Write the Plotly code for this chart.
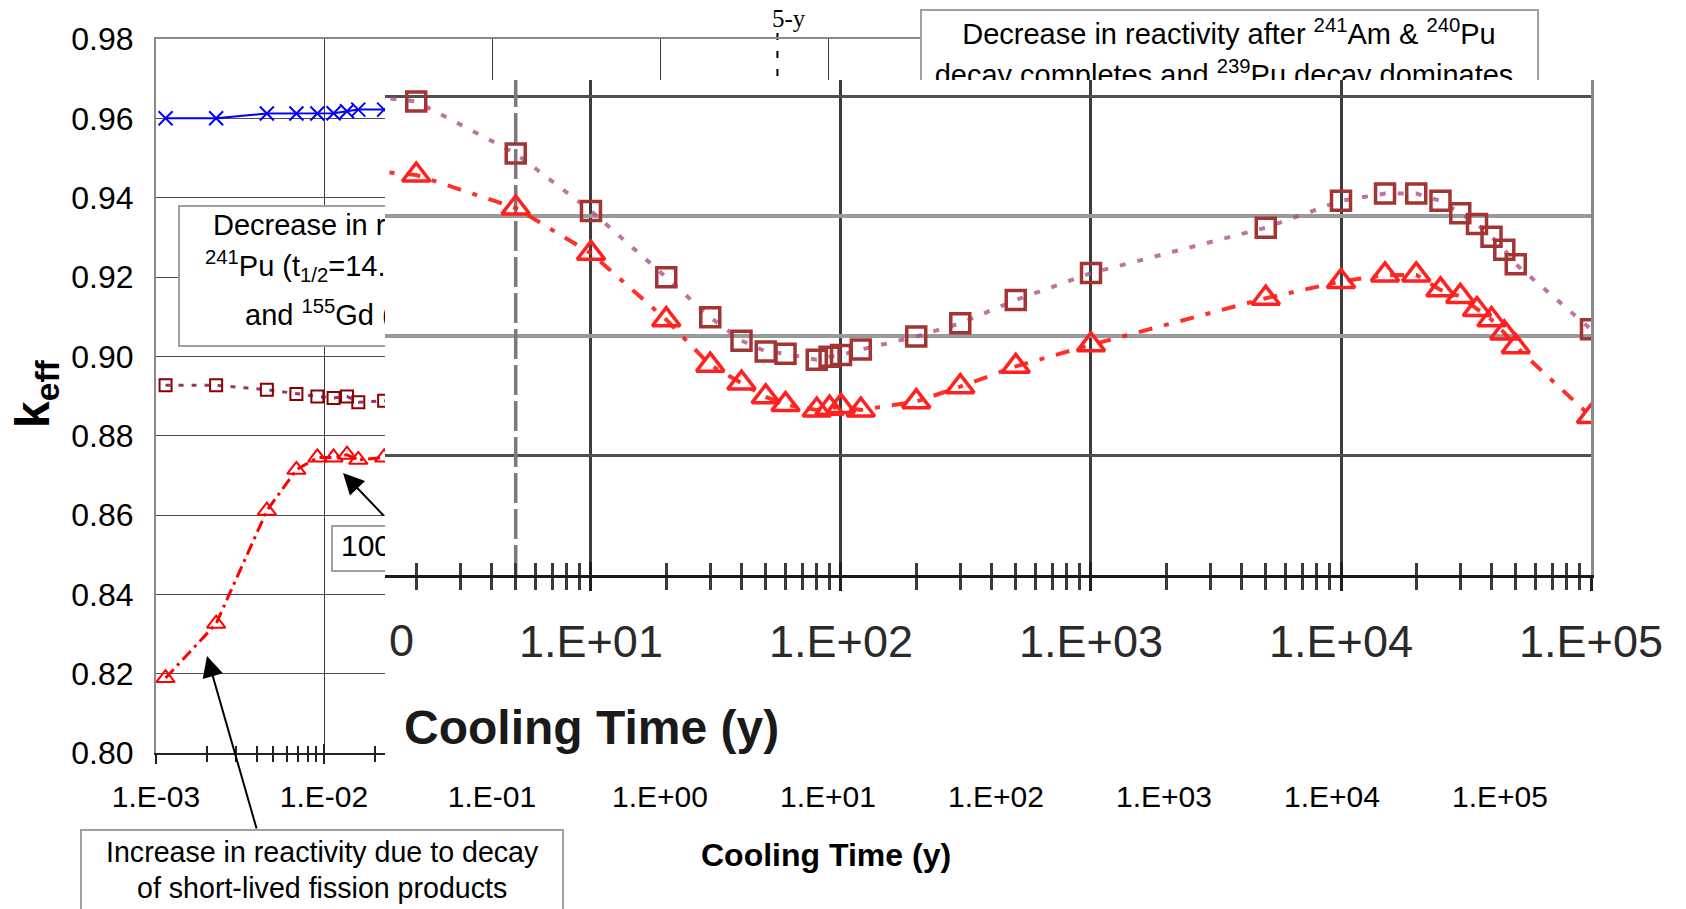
import numpy as np
import plotly.graph_objects as go

W, H = 1686, 909
FONT = "Liberation Sans, Arial, sans-serif"
SERIF = "Liberation Serif, Times New Roman, serif"

# ------------------------------------------------------------------ data
t_early = [1.14e-3, 2.28e-3, 4.57e-3, 6.85e-3, 9.13e-3, 1.14e-2, 1.37e-2, 1.60e-2, 2.28e-2]
t_late = [2, 5, 10, 20, 30, 40, 50, 60, 80, 90, 100, 120, 200, 300, 500, 1000, 5000,
          1e4, 1.5e4, 2e4, 2.5e4, 3e4, 3.5e4, 4e4, 4.5e4, 5e4, 1e5]

keff_x_early = [0.9600, 0.9600, 0.9612, 0.9612, 0.9612, 0.9613, 0.9618, 0.9622, 0.9622]

keff_sq_early = [0.8927, 0.8927, 0.8916, 0.8905, 0.8899, 0.8895, 0.8899, 0.8884, 0.8888]
keff_sq_late = [0.8792, 0.8705, 0.8609, 0.8498, 0.8431, 0.8392, 0.8374, 0.8370, 0.8360,
                0.8365, 0.8368, 0.8377, 0.8399, 0.8421, 0.8460, 0.8505, 0.8581, 0.8626,
                0.8638, 0.8638, 0.8626, 0.8605, 0.8587, 0.8566, 0.8544, 0.8520, 0.8411]

keff_tri_early = [0.8189, 0.8326, 0.8611, 0.8714, 0.8745, 0.8745, 0.8752, 0.8739, 0.8745]
keff_tri_late = [0.8669, 0.8614, 0.8538, 0.8427, 0.8351, 0.8321, 0.8298, 0.8285, 0.8276,
                 0.8279, 0.8282, 0.8276, 0.8290, 0.8315, 0.8349, 0.8385, 0.8463, 0.8491,
                 0.8502, 0.8502, 0.8477, 0.8466, 0.8444, 0.8427, 0.8405, 0.8382, 0.8265]

x_tick_vals = [1e-3, 1e-2, 1e-1, 1e0, 1e1, 1e2, 1e3, 1e4, 1e5]
x_tick_text = ["1.E-03", "1.E-02", "1.E-01", "1.E+00", "1.E+01", "1.E+02", "1.E+03", "1.E+04", "1.E+05"]
y_tick_vals = [0.80, 0.82, 0.84, 0.86, 0.88, 0.90, 0.92, 0.94, 0.96, 0.98]

inset_tick_vals = [1e1, 1e2, 1e3, 1e4, 1e5]
inset_tick_text = ["1.E+01", "1.E+02", "1.E+03", "1.E+04", "1.E+05"]
inset_grid_dark = [0.82, 0.88]
inset_grid_light = [0.84, 0.86]

cooling_5y = 5

t_sq = t_early + t_late
k_sq = keff_sq_early + keff_sq_late
t_tri = t_early + t_late
k_tri = keff_tri_early + keff_tri_late


# ------------------------------------------------------------------ helpers (pixel -> paper)
def fx(p):
    return p / W


def fy(p):
    return 1 - p / H


minor_base = [m * 10.0 ** d for d in range(-3, 5) for m in range(2, 10)]
inset_lo = np.log10(1.5)
inset_top = 0.8828
minor_inset = [m * 10.0 ** d for d in range(0, 5) for m in range(2, 10) if m * 10.0 ** d > 1.5]

fig = go.Figure()

# ------------------------------------------------------------------ base chart traces
fig.add_trace(go.Scatter(
    x=t_early, y=keff_x_early, xaxis="x", yaxis="y", mode="lines+markers",
    line=dict(color="#0000FF", width=2),
    marker=dict(symbol="x-thin", size=14, color="#0000FF", line=dict(width=2, color="#0000FF")),
    hoverinfo="skip"))
fig.add_trace(go.Scatter(
    x=t_sq, y=k_sq, xaxis="x", yaxis="y", mode="lines+markers",
    line=dict(color="#993366", width=3, dash="5px,8px"),
    marker=dict(symbol="square-open", size=12, color="#8B0000", line=dict(width=2)),
    hoverinfo="skip"))
fig.add_trace(go.Scatter(
    x=t_tri, y=k_tri, xaxis="x", yaxis="y", mode="lines+markers",
    line=dict(color="#FF0000", width=3, dash="12px,5px,3px,5px"),
    marker=dict(symbol="triangle-up-open", size=16, color="#FF0000", line=dict(width=2)),
    hoverinfo="skip"))

# ------------------------------------------------------------------ text boxes (own subplots)
fig.add_trace(go.Scatter(
    x=[1229, 1224], y=[37, 78], xaxis="x2", yaxis="y2", mode="text", cliponaxis=False,
    text=["Decrease in reactivity after <sup>241</sup>Am &amp; <sup>240</sup>Pu",
          "decay completes and <sup>239</sup>Pu decay dominates"],
    textposition="middle center", textfont=dict(size=29, family=FONT, color="black"),
    hoverinfo="skip"))
fig.add_trace(go.Scatter(
    x=[213, 205, 245], y=[228, 269, 318], xaxis="x3", yaxis="y3", mode="text", cliponaxis=False,
    text=["Decrease in reactivity due to decay of",
          "<sup>241</sup>Pu (t<sub>1/2</sub>=14.4 y) to <sup>241</sup>Am",
          "and <sup>155</sup>Gd (from <sup>155</sup>Eu)"],
    textposition="middle right", textfont=dict(size=29, family=FONT, color="black"),
    hoverinfo="skip"))
fig.add_trace(go.Scatter(
    x=[341], y=[548], xaxis="x4", yaxis="y4", mode="text", cliponaxis=False,
    text=["100-y"], textposition="middle right",
    textfont=dict(size=30, family=FONT, color="black"), hoverinfo="skip"))

# ------------------------------------------------------------------ white cover behind inset
fig.add_trace(go.Scatter(x=[], y=[], xaxis="x5", yaxis="y5", mode="markers", hoverinfo="skip"))

# ------------------------------------------------------------------ inset (magnified) traces
fig.add_trace(go.Scatter(
    x=[cooling_5y, cooling_5y], y=[0.80, inset_top], xaxis="x6", yaxis="y6", mode="lines",
    line=dict(color="#7a7a7a", width=3.5, dash="30px,6px"), hoverinfo="skip"))
fig.add_trace(go.Scatter(
    x=t_sq, y=k_sq, xaxis="x6", yaxis="y6", mode="lines+markers",
    line=dict(color="rgba(176,80,140,0.8)", width=4, dash="6px,12px"),
    marker=dict(symbol="square-open", size=19, color="#A33434", line=dict(width=3.5)),
    hoverinfo="skip"))
fig.add_trace(go.Scatter(
    x=t_tri, y=k_tri, xaxis="x6", yaxis="y6", mode="lines+markers",
    line=dict(color="rgba(255,25,15,0.9)", width=4, dash="14px,12px,5px,12px"),
    marker=dict(symbol="triangle-up-open", size=24, color="#FF2020", line=dict(width=3.5)),
    hoverinfo="skip"))

# empty traces so that overlay axes (crossing ticks, extra grid, top border) are built
for xa, ya in [("x7", "y"), ("x8", "y"), ("x9", "y6"), ("x6", "y10")]:
    fig.add_trace(go.Scatter(x=[], y=[], xaxis=xa, yaxis=ya, mode="markers", hoverinfo="skip"))

hidden = dict(showline=False, showgrid=False, zeroline=False, showticklabels=False, ticks="",
              automargin=False)
box_axis = dict(showline=True, mirror=True, linecolor="#a0a0a0", linewidth=2, showgrid=False,
                zeroline=False, showticklabels=False, ticks="", automargin=False)

layout = dict(
    width=W, height=H, template="none",
    margin=dict(l=0, r=0, t=0, b=0, pad=0),
    paper_bgcolor="white", plot_bgcolor="white", showlegend=False,
    # base chart
    xaxis=dict(domain=[fx(156), fx(1500)], type="log", range=[-3, 5], anchor="y",
               tickmode="array", tickvals=x_tick_vals, ticktext=x_tick_text,
               ticks="outside", ticklen=9, tickwidth=1.5, tickcolor="#222",
               showgrid=True, gridcolor="#3d3d3d", gridwidth=1,
               showline=True, linecolor="#222", linewidth=2, zeroline=False,
               tickfont=dict(size=30, family=FONT, color="black"), ticklabelstandoff=7,
               minor=dict(ticks="outside", ticklen=7, tickwidth=1.5, tickcolor="#222",
                          tickmode="array", tickvals=minor_base, showgrid=False),
               automargin=False),
    yaxis=dict(domain=[fy(753), fy(39)], range=[0.80, 0.98], anchor="x",
               tickmode="array", tickvals=y_tick_vals, tickformat=".2f", ticks="",
               showgrid=True, gridcolor="#4d4d4d", gridwidth=1,
               showline=True, linecolor="#8a8a8a", linewidth=2, zeroline=False,
               tickfont=dict(size=32, family=FONT, color="black"), ticklabelstandoff=14,
               automargin=False),
    xaxis7=dict(overlaying="x", anchor="y", type="log", range=[-3, 5],
                tickmode="array", tickvals=x_tick_vals, ticks="inside", ticklen=9,
                tickwidth=1.5, tickcolor="#222", showticklabels=False, showgrid=False,
                showline=False, zeroline=False,
                minor=dict(ticks="inside", ticklen=7, tickwidth=1.5, tickcolor="#222",
                           tickmode="array", tickvals=minor_base, showgrid=False),
                automargin=False),
    xaxis8=dict(overlaying="x", anchor="y", side="top", type="log", range=[-3, 5],
                showline=True, linecolor="#8a8a8a", linewidth=2, ticks="",
                showticklabels=False, showgrid=False, zeroline=False, automargin=False),
    # boxes
    xaxis2=dict(domain=[fx(922), fx(1537)], range=[922, 1537], anchor="y2", **box_axis),
    yaxis2=dict(domain=[fy(95), fy(11)], range=[95, 11], anchor="x2", **box_axis),
    xaxis3=dict(domain=[fx(180), fx(700)], range=[180, 700], anchor="y3", **box_axis),
    yaxis3=dict(domain=[fy(345), fy(207)], range=[345, 207], anchor="x3", **box_axis),
    xaxis4=dict(domain=[fx(333), fx(470)], range=[333, 470], anchor="y4", **box_axis),
    yaxis4=dict(domain=[fy(570), fy(527)], range=[570, 527], anchor="x4", **box_axis),
    # cover
    xaxis5=dict(domain=[fx(385), 1.0], range=[0, 1], anchor="y5", **hidden),
    yaxis5=dict(domain=[fy(772), fy(80)], range=[0, 1], anchor="x5", **hidden),
    # inset
    xaxis6=dict(domain=[fx(385), fx(1591)], type="log", range=[inset_lo, 5], anchor="y6",
                tickmode="array", tickvals=inset_tick_vals, ticktext=inset_tick_text,
                ticks="outside", ticklen=13, tickwidth=3, tickcolor="#1e1e1e",
                showgrid=True, gridcolor="#3c3c3c", gridwidth=3,
                showline=True, linecolor="#1a1a1a", linewidth=3, zeroline=False,
                tickfont=dict(size=45, family=FONT, color="#2a2a2a"), ticklabelstandoff=12,
                minor=dict(ticks="outside", ticklen=12, tickwidth=2.5, tickcolor="#3a3a3a",
                           tickmode="array", tickvals=minor_inset, showgrid=False),
                automargin=False),
    yaxis6=dict(domain=[fy(575), fy(80)], range=[0.80, inset_top], anchor="x6", side="right",
                tickmode="array", tickvals=inset_grid_dark, ticks="", showticklabels=False,
                showgrid=True, gridcolor="#505050", gridwidth=3,
                showline=True, linecolor="#8a8a8a", linewidth=3, zeroline=False,
                automargin=False),
    yaxis10=dict(overlaying="y6", anchor="x6", range=[0.80, inset_top],
                 tickmode="array", tickvals=inset_grid_light, ticks="", showticklabels=False,
                 showgrid=True, gridcolor="#9a9a9a", gridwidth=3.5, showline=False,
                 zeroline=False, automargin=False),
    xaxis9=dict(overlaying="x6", anchor="y6", type="log", range=[inset_lo, 5],
                tickmode="array", tickvals=inset_tick_vals, ticks="inside", ticklen=13,
                tickwidth=3, tickcolor="#1e1e1e", showticklabels=False, showgrid=False,
                showline=False, zeroline=False,
                minor=dict(ticks="inside", ticklen=12, tickwidth=2.5, tickcolor="#3a3a3a",
                           tickmode="array", tickvals=minor_inset, showgrid=False),
                automargin=False),
)
fig.update_layout(**layout)

# ------------------------------------------------------------------ shapes
fig.add_shape(type="line", xref="x", yref="paper", x0=cooling_5y, x1=cooling_5y,
              y0=fy(33), y1=fy(753), line=dict(color="black", width=2, dash="7px,11px"),
              layer="below")
fig.add_shape(type="rect", xref="paper", yref="paper", x0=fx(81), x1=fx(563),
              y0=fy(830), y1=fy(940), line=dict(color="#a0a0a0", width=2),
              fillcolor="white", layer="below")

# ------------------------------------------------------------------ annotations
ann = []
ann.append(dict(text="<b>k<sub>eff</sub></b>", textangle=-90, xref="paper", yref="paper",
                x=fx(36), y=fy(394), xanchor="center", yanchor="middle", showarrow=False,
                font=dict(size=48, family=FONT, color="black")))
ann.append(dict(text="<b>Cooling Time (y)</b>", xref="paper", yref="paper",
                x=fx(826), y=fy(855), xanchor="center", yanchor="middle", showarrow=False,
                font=dict(size=32, family=FONT, color="black")))
ann.append(dict(text="<b>Cooling Time (y)</b>", xref="paper", yref="paper",
                x=fx(591), y=fy(727), xanchor="center", yanchor="middle", showarrow=False,
                font=dict(size=48, family=FONT, color="#1a1a1a")))
ann.append(dict(text="0", xref="paper", yref="paper", x=fx(401), y=fy(640),
                xanchor="center", yanchor="middle", showarrow=False,
                font=dict(size=45, family=FONT, color="#2a2a2a")))
ann.append(dict(text="5-y", xref="paper", yref="paper", x=fx(789), y=fy(18),
                xanchor="center", yanchor="middle", showarrow=False,
                font=dict(size=25, family=SERIF, color="black")))
ann.append(dict(text="Increase in reactivity due to decay", xref="paper", yref="paper",
                x=fx(322), y=fy(852), xanchor="center", yanchor="middle", showarrow=False,
                font=dict(size=28.6, family=FONT, color="black")))
ann.append(dict(text="of short-lived fission products", xref="paper", yref="paper",
                x=fx(322), y=fy(888), xanchor="center", yanchor="middle", showarrow=False,
                font=dict(size=28.6, family=FONT, color="black")))
ann.append(dict(text="", xref="paper", yref="paper", x=fx(343), y=fy(473),
                axref="pixel", ayref="pixel", ax=42, ay=44, showarrow=True,
                arrowhead=2, arrowsize=2.1, arrowwidth=2, arrowcolor="black", standoff=0))
ann.append(dict(text="", xref="paper", yref="paper", x=fx(207), y=fy(656),
                axref="pixel", ayref="pixel", ax=50, ay=174, showarrow=True,
                arrowhead=2, arrowsize=2.1, arrowwidth=2, arrowcolor="black", standoff=0))
fig.update_layout(annotations=ann)

fig.write_html("out.html", config=dict(displayModeBar=False))
